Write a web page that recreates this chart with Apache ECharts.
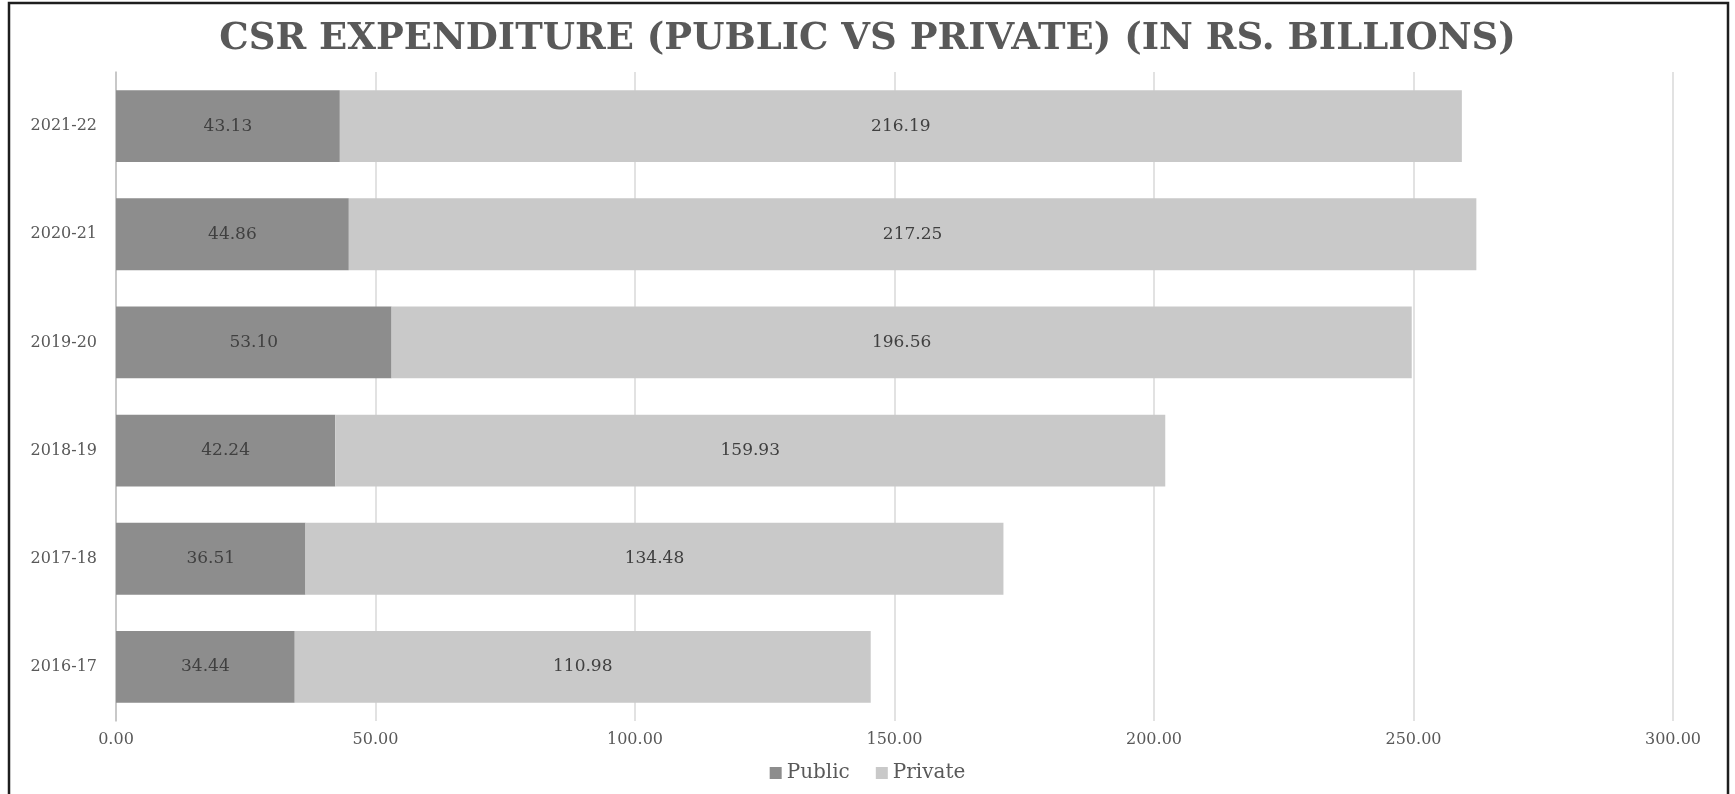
<!DOCTYPE html>
<html>
<head>
<meta charset="utf-8">
<title>CSR Expenditure</title>
<script src="https://cdn.jsdelivr.net/npm/echarts@6/dist/echarts.min.js"></script>
<style>
    html, body {margin: 0; padding: 0; background: #fff;}
    #chart {width: 1735px; height: 794px;}
</style>
</head>
<body>
<div id="chart"></div>
<script>
// data
let years = ['2016-17', '2017-18', '2018-19', '2019-20', '2020-21', '2021-22'];
let publicData = [34.44, 36.51, 42.24, 53.10, 44.86, 43.13];
let privateData = [110.98, 134.48, 159.93, 196.56, 217.25, 216.19];
let xTicks = [0, 50, 100, 150, 200, 250, 300];

let font = 'DejaVu Serif';
let grey = '#595959';

let e1 = echarts.init(document.getElementById('chart'));

let labelCfg = {
    show: true,
    position: 'inside',
    color: '#404040',
    fontFamily: font,
    fontSize: 17,
    formatter: function (p) {
        return p.value.toFixed(2);
    }
};

let option = {
    animation: false,
    title: {
        text: 'CSR EXPENDITURE (PUBLIC VS PRIVATE) (IN RS. BILLIONS)',
        left: 'center',
        top: 16,
        textStyle: {fontFamily: font, fontWeight: 'bold', fontSize: 37, color: grey}
    },
    legend: {
        bottom: 6,
        left: 'center',
        itemWidth: 12,
        itemHeight: 12,
        itemGap: 26,
        icon: 'rect',
        textStyle: {fontFamily: font, fontSize: 20, color: grey},
        data: ['Public', 'Private']
    },
    grid: {left: 116, right: 1735 - 1673, top: 72, bottom: 794 - 721, containLabel: false},
    xAxis: {
        type: 'value',
        min: xTicks[0],
        max: xTicks[xTicks.length - 1],
        interval: 50,
        axisLine: {show: false},
        axisTick: {show: false},
        splitLine: {lineStyle: {color: '#d9d9d9', width: 1.5}},
        axisLabel: {
            fontFamily: font, fontSize: 16, color: grey, margin: 11,
            formatter: function (v) {
                return v.toFixed(2);
            }
        }
    },
    yAxis: {
        type: 'category',
        data: years,
        axisLine: {lineStyle: {color: '#bfbfbf', width: 1.5}},
        axisTick: {show: false},
        axisLabel: {fontFamily: font, fontSize: 16, color: grey, margin: 19}
    },
    series: [
        {
            name: 'Public', type: 'bar', stack: 'total', data: publicData,
            barWidth: '66.4%',
            itemStyle: {color: '#8d8d8d'},
            label: labelCfg
        },
        {
            name: 'Private', type: 'bar', stack: 'total', data: privateData,
            itemStyle: {color: '#c9c9c9'},
            label: labelCfg
        }
    ],
    graphic: [
        {
            type: 'rect',
            shape: {x: 9, y: 3, width: 1719, height: 820},
            style: {fill: 'none', stroke: '#1e1e1e', lineWidth: 2.5},
            silent: true
        }
    ]
};

e1.setOption(option);
window.onresize = function () {
    e1.resize();
};
</script>
</body>
</html>
